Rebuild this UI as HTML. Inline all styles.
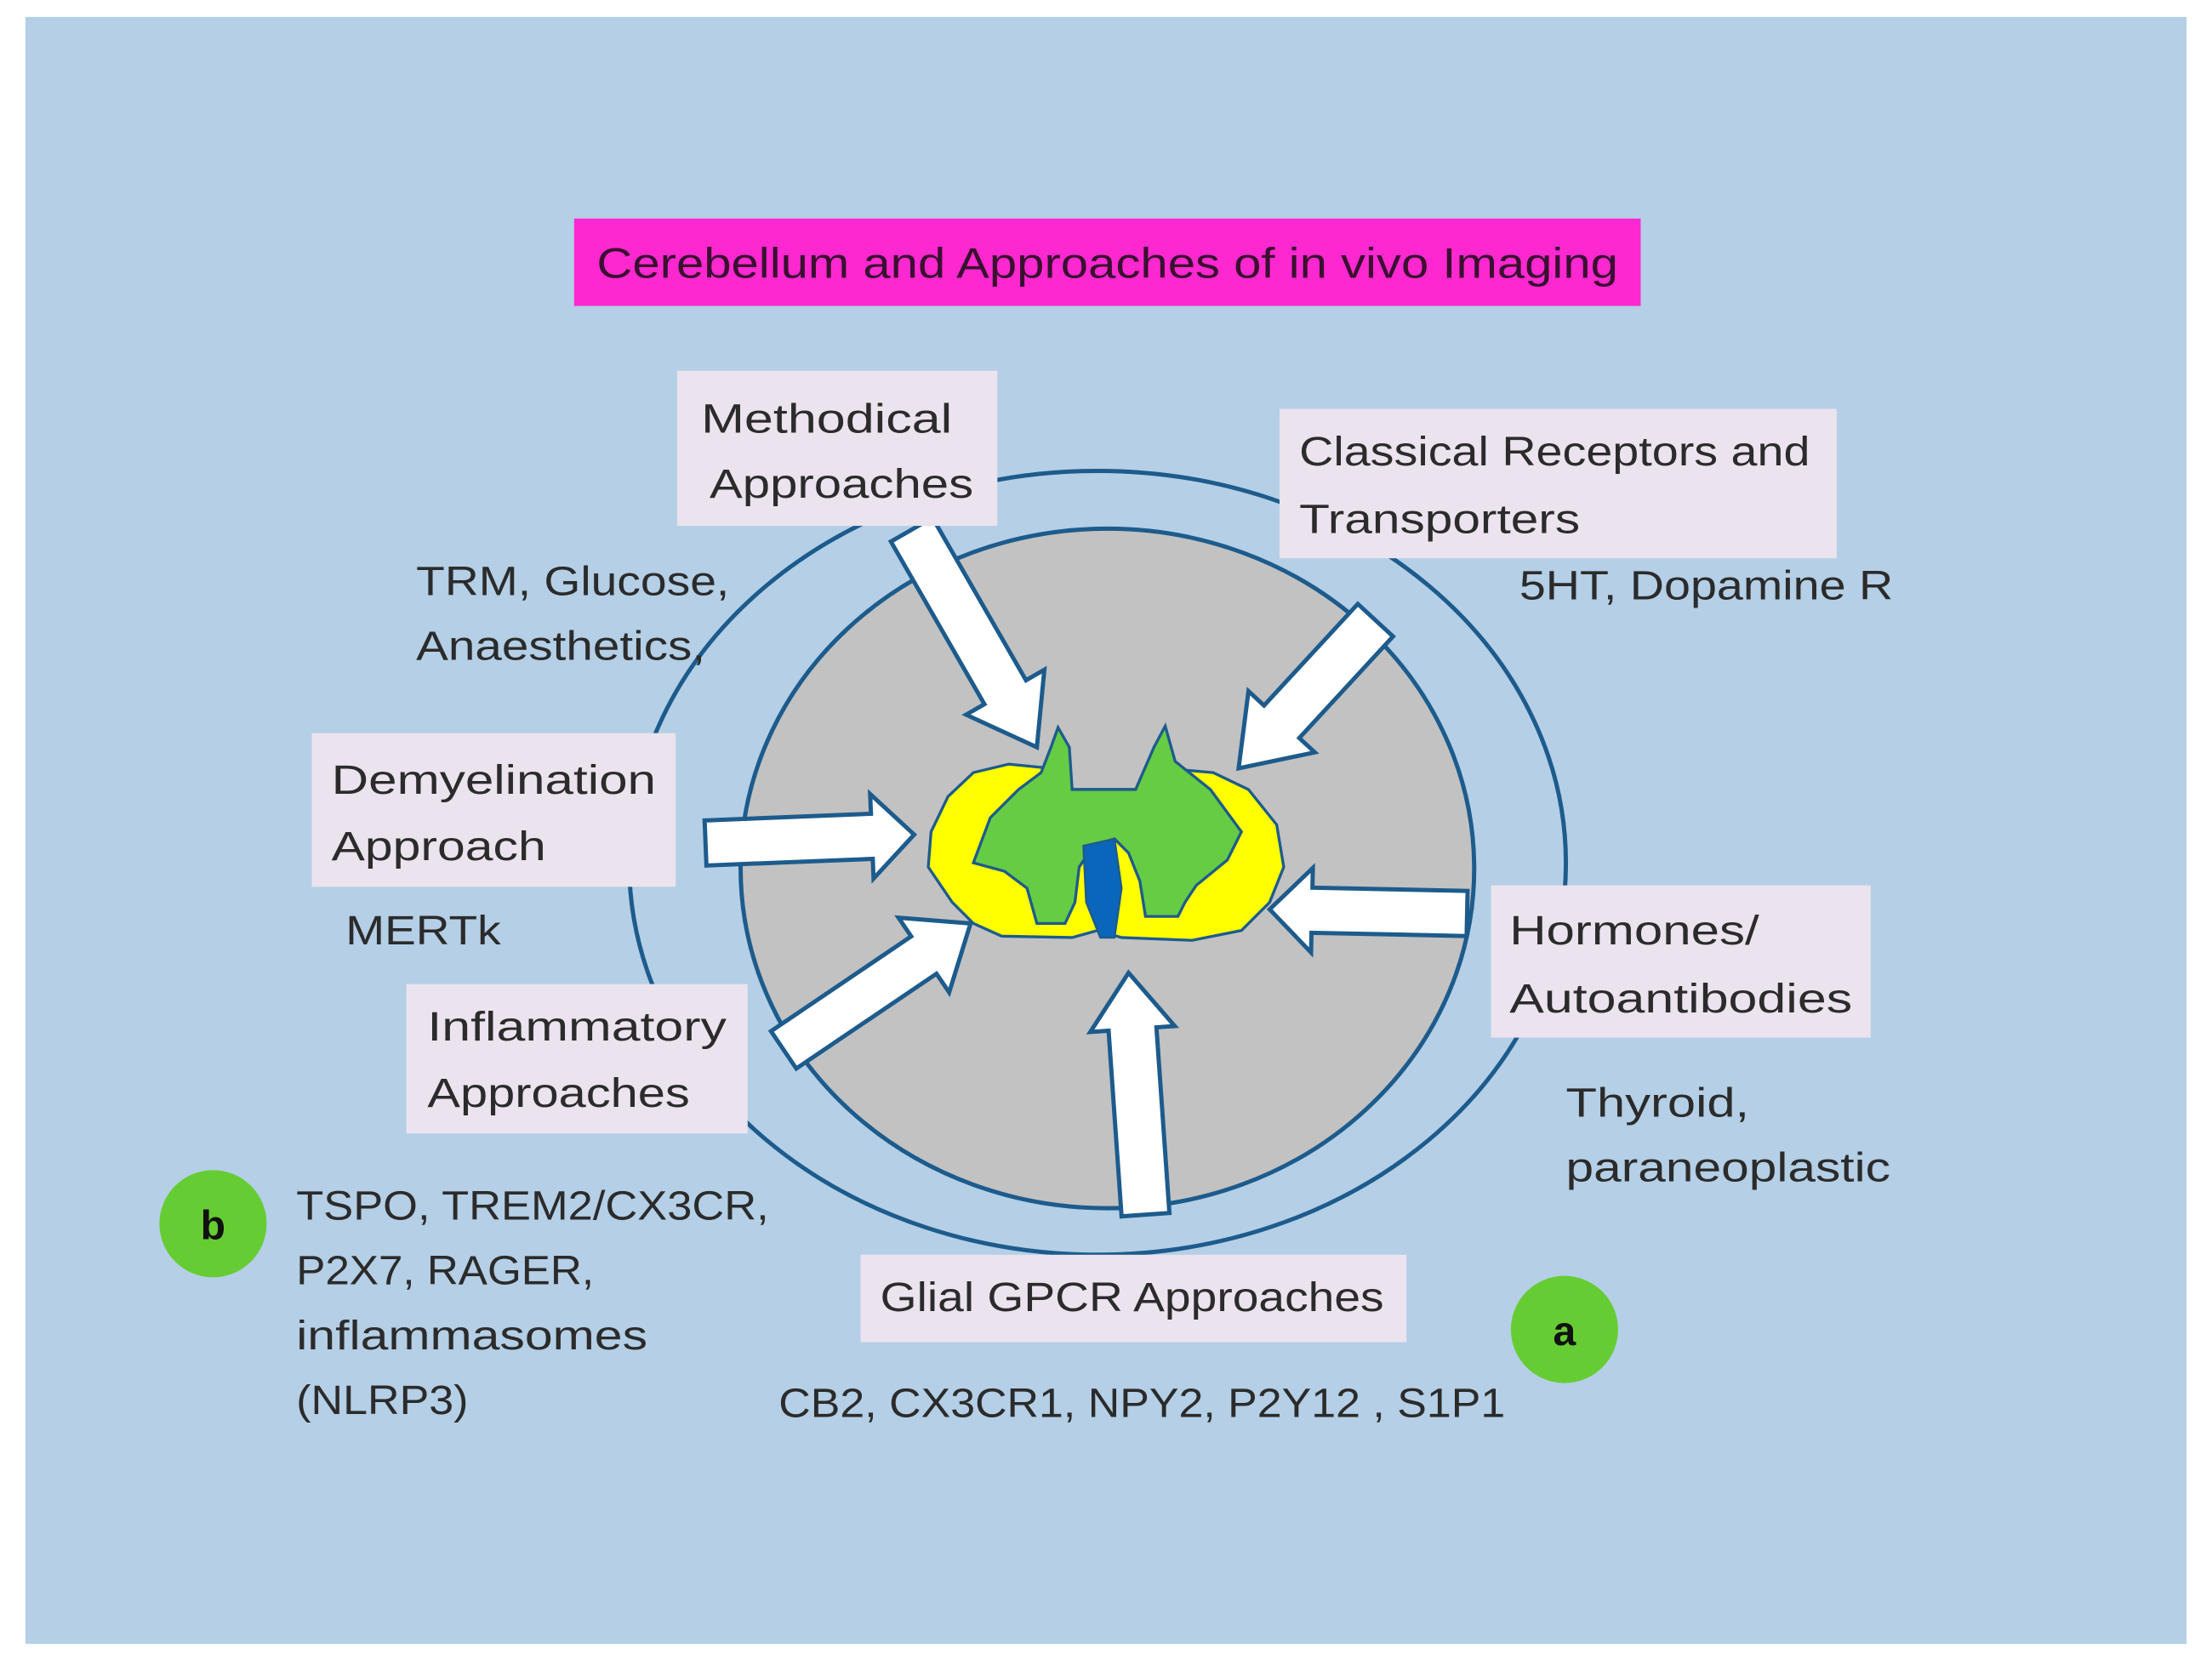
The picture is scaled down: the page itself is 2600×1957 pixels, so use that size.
<!DOCTYPE html>
<html><head><style>html,body{margin:0;padding:0;background:#fff}svg{display:block}</style></head>
<body>
<svg width="2600" height="1957" viewBox="0 0 1568 1181" preserveAspectRatio="none" xmlns="http://www.w3.org/2000/svg" font-family="'Liberation Sans', sans-serif">
<rect x="0" y="0" width="1568" height="1181" fill="#fff"/>
<rect x="18" y="12" width="1532" height="1154" fill="#b4cfe6"/>
<rect x="407" y="155" width="756" height="62" fill="#fe28d0"/>
<text x="423" y="197" font-size="30" fill="#3a1030" textLength="724" lengthAdjust="spacingAndGlyphs">Cerebellum and Approaches of in vivo Imaging</text>
<ellipse cx="778" cy="612" rx="332" ry="278" fill="none" stroke="#1d5b8c" stroke-width="3"/>
<ellipse cx="785" cy="616" rx="260" ry="241" fill="#c2c2c2" stroke="#1d5b8c" stroke-width="3"/>
<path d="M672,565 L690,548 L715,542 L745,545 L760,560 L805,560 L825,545 L860,548 L885,560 L905,585 L910,615 L900,640 L880,660 L845,667 L795,665 L778,660 L760,665 L710,664 L690,655 L675,640 L658,615 L660,590 Z" fill="#ffff00" stroke="#1d5b8c" stroke-width="2"/>
<path d="M745,530 L750,516 L758,530 L760,560 L805,560 L818,530 L826,515 L833,540 L858,560 L880,590 L870,610 L848,628 L840,640 L835,650 L812,650 L808,625 L800,605 L790,595 L775,600 L765,615 L762,640 L755,655 L735,655 L728,630 L712,618 L690,612 L702,580 L722,560 L738,548 Z" fill="#66cc44" stroke="#1d5b8c" stroke-width="2"/>
<path d="M768,600 L790,595 L795,630 L790,665 L780,665 L770,640 Z" fill="#0a66bb" stroke="#1d5b8c" stroke-width="1.5"/>
<g fill="#fff" stroke="#1d5b8c" stroke-width="3" stroke-linejoin="miter">
<path transform="translate(735,530) rotate(60.1)" d="M0,0 L-45,-32 L-45,-17 L-178,-17 L-178,17 L-45,17 L-45,32 Z"/>
<path transform="translate(878,545) rotate(132.7)" d="M0,0 L-45,-32 L-45,-17 L-143,-17 L-143,17 L-45,17 L-45,32 Z"/>
<path transform="translate(648,592) rotate(-2.3)" d="M0,0 L-30,-30 L-30,-16 L-148,-16 L-148,16 L-30,16 L-30,30 Z"/>
<path transform="translate(900,645) rotate(181.2)" d="M0,0 L-30,-30 L-30,-16 L-140,-16 L-140,16 L-30,16 L-30,30 Z"/>
<path transform="translate(688,655) rotate(-34.1)" d="M0,0 L-40,-32 L-40,-16 L-160,-16 L-160,16 L-40,16 L-40,32 Z"/>
<path transform="translate(800,690) rotate(-94)" d="M0,0 L-40,-30 L-40,-17 L-172,-17 L-172,17 L-40,17 L-40,30 Z"/>
</g>
<g fill="#ebe3ee">
<rect x="480" y="263" width="227" height="110"/>
<rect x="907" y="290" width="395" height="106"/>
<rect x="221" y="520" width="258" height="109"/>
<rect x="1057" y="628" width="269" height="108"/>
<rect x="288" y="698" width="242" height="106"/>
<rect x="610" y="890" width="387" height="62"/>
</g>
<circle cx="151" cy="868" r="38" fill="#66cc33"/>
<circle cx="1109" cy="943" r="38" fill="#66cc33"/>
<g font-size="29" fill="#2b2b2b" lengthAdjust="spacingAndGlyphs">
<text x="497" y="307" textLength="178" lengthAdjust="spacingAndGlyphs">Methodical</text>
<text x="503" y="353" textLength="187" lengthAdjust="spacingAndGlyphs">Approaches</text>
<text x="921" y="330" textLength="362" lengthAdjust="spacingAndGlyphs">Classical Receptors and</text>
<text x="921" y="378" textLength="199" lengthAdjust="spacingAndGlyphs">Transporters</text>
<text x="235" y="563" textLength="230" lengthAdjust="spacingAndGlyphs">Demyelination</text>
<text x="235" y="610" textLength="152" lengthAdjust="spacingAndGlyphs">Approach</text>
<text x="1070" y="670" textLength="177" lengthAdjust="spacingAndGlyphs">Hormones/</text>
<text x="1070" y="718" textLength="243" lengthAdjust="spacingAndGlyphs">Autoantibodies</text>
<text x="303" y="738" textLength="212" lengthAdjust="spacingAndGlyphs">Inflammatory</text>
<text x="303" y="785" textLength="186" lengthAdjust="spacingAndGlyphs">Approaches</text>
<text x="624" y="930" textLength="357" lengthAdjust="spacingAndGlyphs">Glial GPCR Approaches</text>
<text x="295" y="422" textLength="222" lengthAdjust="spacingAndGlyphs">TRM, Glucose,</text>
<text x="295" y="468" textLength="205" lengthAdjust="spacingAndGlyphs">Anaesthetics,</text>
<text x="1077" y="425" textLength="265" lengthAdjust="spacingAndGlyphs">5HT, Dopamine R</text>
<text x="245" y="670" textLength="110" lengthAdjust="spacingAndGlyphs">MERTk</text>
<text x="1110" y="792" textLength="130" lengthAdjust="spacingAndGlyphs">Thyroid,</text>
<text x="1110" y="838" textLength="230" lengthAdjust="spacingAndGlyphs">paraneoplastic</text>
<text x="210" y="865" textLength="335" lengthAdjust="spacingAndGlyphs">TSPO, TREM2/CX3CR,</text>
<text x="210" y="911" textLength="211" lengthAdjust="spacingAndGlyphs">P2X7, RAGER,</text>
<text x="210" y="957" textLength="249" lengthAdjust="spacingAndGlyphs">inflammasomes</text>
<text x="210" y="1003" textLength="122" lengthAdjust="spacingAndGlyphs">(NLRP3)</text>
<text x="552" y="1005" textLength="515" lengthAdjust="spacingAndGlyphs">CB2, CX3CR1, NPY2, P2Y12 , S1P1</text>
<text x="151" y="879" text-anchor="middle" font-weight="bold" fill="#111">b</text>
<text x="1109" y="954" text-anchor="middle" font-weight="bold" fill="#111">a</text>
</g>
</svg>
</body></html>
